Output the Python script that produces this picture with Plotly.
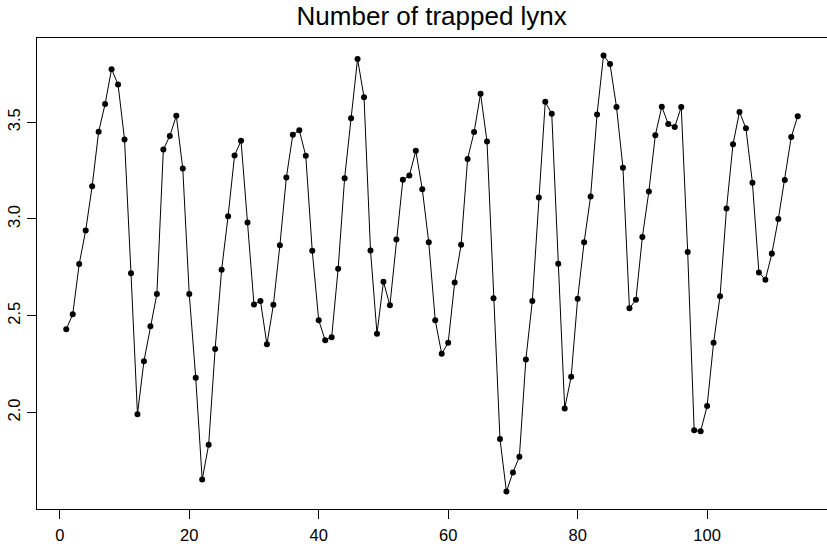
import plotly.graph_objects as go

years_index = list(range(1, 115))
log_lynx = [
    2.430, 2.507, 2.767, 2.940, 3.169, 3.450, 3.594, 3.774, 3.695, 3.411,
    2.719, 1.991, 2.265, 2.446, 2.612, 3.359, 3.429, 3.533, 3.261, 2.612,
    2.179, 1.653, 1.833, 2.328, 2.737, 3.014, 3.328, 3.404, 2.981, 2.558,
    2.576, 2.352, 2.556, 2.864, 3.214, 3.435, 3.458, 3.326, 2.835, 2.476,
    2.373, 2.389, 2.742, 3.210, 3.520, 3.827, 3.629, 2.837, 2.407, 2.675,
    2.554, 2.894, 3.202, 3.224, 3.352, 3.154, 2.879, 2.476, 2.303, 2.360,
    2.671, 2.867, 3.310, 3.449, 3.647, 3.400, 2.590, 1.863, 1.591, 1.690,
    1.771, 2.274, 2.576, 3.111, 3.605, 3.543, 2.769, 2.021, 2.185, 2.588,
    2.880, 3.116, 3.540, 3.845, 3.800, 3.579, 3.264, 2.538, 2.582, 2.907,
    3.142, 3.433, 3.580, 3.490, 3.475, 3.579, 2.829, 1.908, 1.903, 2.033,
    2.360, 2.601, 3.054, 3.386, 3.553, 3.468, 3.187, 2.723, 2.686, 2.821,
    3.000, 3.201, 3.424, 3.531,
]
x_ticks = [0, 20, 40, 60, 80, 100]
y_ticks = [2.0, 2.5, 3.0, 3.5]
y_tick_labels = ["2.0", "2.5", "3.0", "3.5"]
title_text = "Number of trapped lynx"

fig = go.Figure()
fig.add_trace(go.Scatter(
    x=years_index, y=log_lynx, mode="lines+markers",
    line=dict(color="black", width=1),
    marker=dict(color="black", size=6),
    showlegend=False, cliponaxis=False,
))

font = dict(family="Liberation Sans, Arial, sans-serif", color="black", size=16.5)

fig.update_layout(
    width=827, height=546,
    margin=dict(l=37, r=0, t=38, b=37, autoexpand=False),
    paper_bgcolor="white", plot_bgcolor="white",
    font=font,
    title=dict(text=title_text, x=0.522, xanchor="center", y=0.970, yanchor="middle",
               font=dict(family="Liberation Sans, Arial, sans-serif", size=26, color="black")),
)
fig.update_xaxes(
    range=[-3.52, 118.52], tickvals=x_ticks, ticks="outside", ticklen=9, tickwidth=1,
    tickcolor="black", showline=True, mirror=True, linecolor="black", linewidth=1,
    showgrid=False, zeroline=False, ticklabelstandoff=2, automargin=False,
)
fig.update_yaxes(
    range=[1.501, 3.935], tickvals=y_ticks, ticktext=y_tick_labels, tickangle=-90,
    ticks="outside", ticklen=9, tickwidth=1, tickcolor="black",
    showline=True, mirror=False, linecolor="black", linewidth=1,
    showgrid=False, zeroline=False, ticklabelstandoff=0, automargin=False,
)

fig.write_html(
    "out.html",
    config={"displayModeBar": False},
    post_script="document.body.style.margin='0';document.body.style.overflow='hidden';",
)
